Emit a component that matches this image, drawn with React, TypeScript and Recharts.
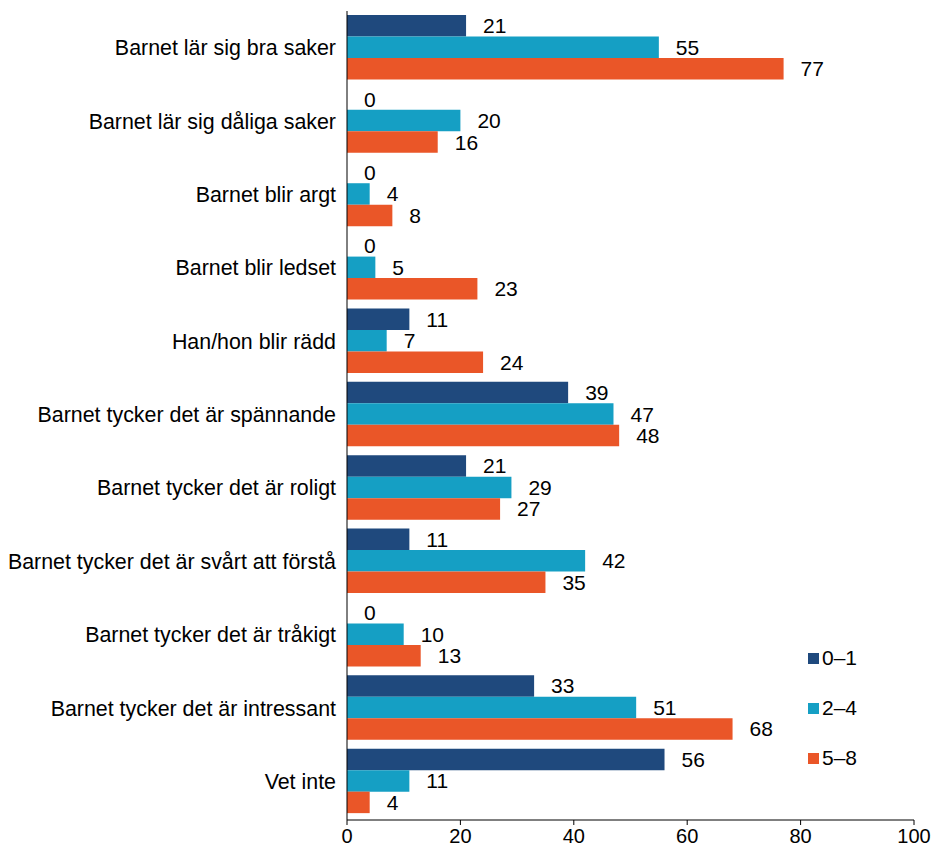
import { Bar, BarChart, LabelList, XAxis, YAxis } from "recharts";

const categories = [
  "Barnet lär sig bra saker",
  "Barnet lär sig dåliga saker",
  "Barnet blir argt",
  "Barnet blir ledset",
  "Han/hon blir rädd",
  "Barnet tycker det är spännande",
  "Barnet tycker det är roligt",
  "Barnet tycker det är svårt att förstå",
  "Barnet tycker det är tråkigt",
  "Barnet tycker det är intressant",
  "Vet inte",
];

const age01 = [21, 0, 0, 0, 11, 39, 21, 11, 0, 33, 56];
const age24 = [55, 20, 4, 5, 7, 47, 29, 42, 10, 51, 11];
const age58 = [77, 16, 8, 23, 24, 48, 27, 35, 13, 68, 4];
const xTicks = [0, 20, 40, 60, 80, 100];

const SERIES = [
  { key: "a", name: "0–1", color: "#1f497d" },
  { key: "b", name: "2–4", color: "#159fc4" },
  { key: "c", name: "5–8", color: "#ea5628" },
];

const data = categories.map((name, i) => ({
  name,
  a: age01[i],
  b: age24[i],
  c: age58[i],
}));

const FONT = "'Liberation Sans', Arial, sans-serif";

// legend sits on its own over the chart, lower right
function LegendBox() {
  return (
    <div style={{ position: "absolute", left: 808, top: 633, fontFamily: FONT, fontSize: 21, color: "#000" }}>
      {SERIES.map((s) => (
        <div key={s.key} style={{ display: "flex", alignItems: "center", height: 50 }}>
          <span style={{ width: 11, height: 11, background: s.color, marginRight: 3, display: "inline-block" }} />
          <span>{s.name}</span>
        </div>
      ))}
    </div>
  );
}

export default function App() {
  return (
    <div style={{ position: "absolute", left: 0, top: 0, width: 934, height: 852, background: "#fff", fontFamily: FONT }}>
      <BarChart
        width={934}
        height={852}
        data={data}
        layout="vertical"
        margin={{ top: 11, right: 20, bottom: 0, left: 0 }}
        barGap={0}
        barSize={21.5}
      >
        <XAxis
          type="number"
          domain={[0, 100]}
          ticks={xTicks}
          stroke="#000"
          tickSize={5}
          tickMargin={4}
          tick={{ fill: "#000", fontSize: 20 }}
          height={32}
        />
        <YAxis
          type="category"
          dataKey="name"
          width={347}
          stroke="#000"
          tickLine={false}
          tickSize={0}
          tickMargin={11}
          padding={{ top: 0, bottom: 2 }}
          tick={{ fill: "#000", fontSize: 21.4 }}
          interval={0}
        />
        {SERIES.map((s) => (
          <Bar key={s.key} dataKey={s.key} name={s.name} fill={s.color} minPointSize={0.001} isAnimationActive={false}>
            <LabelList dataKey={s.key} position="right" offset={17} fill="#000" fontSize={21} />
          </Bar>
        ))}
      </BarChart>
      <LegendBox />
    </div>
  );
}
